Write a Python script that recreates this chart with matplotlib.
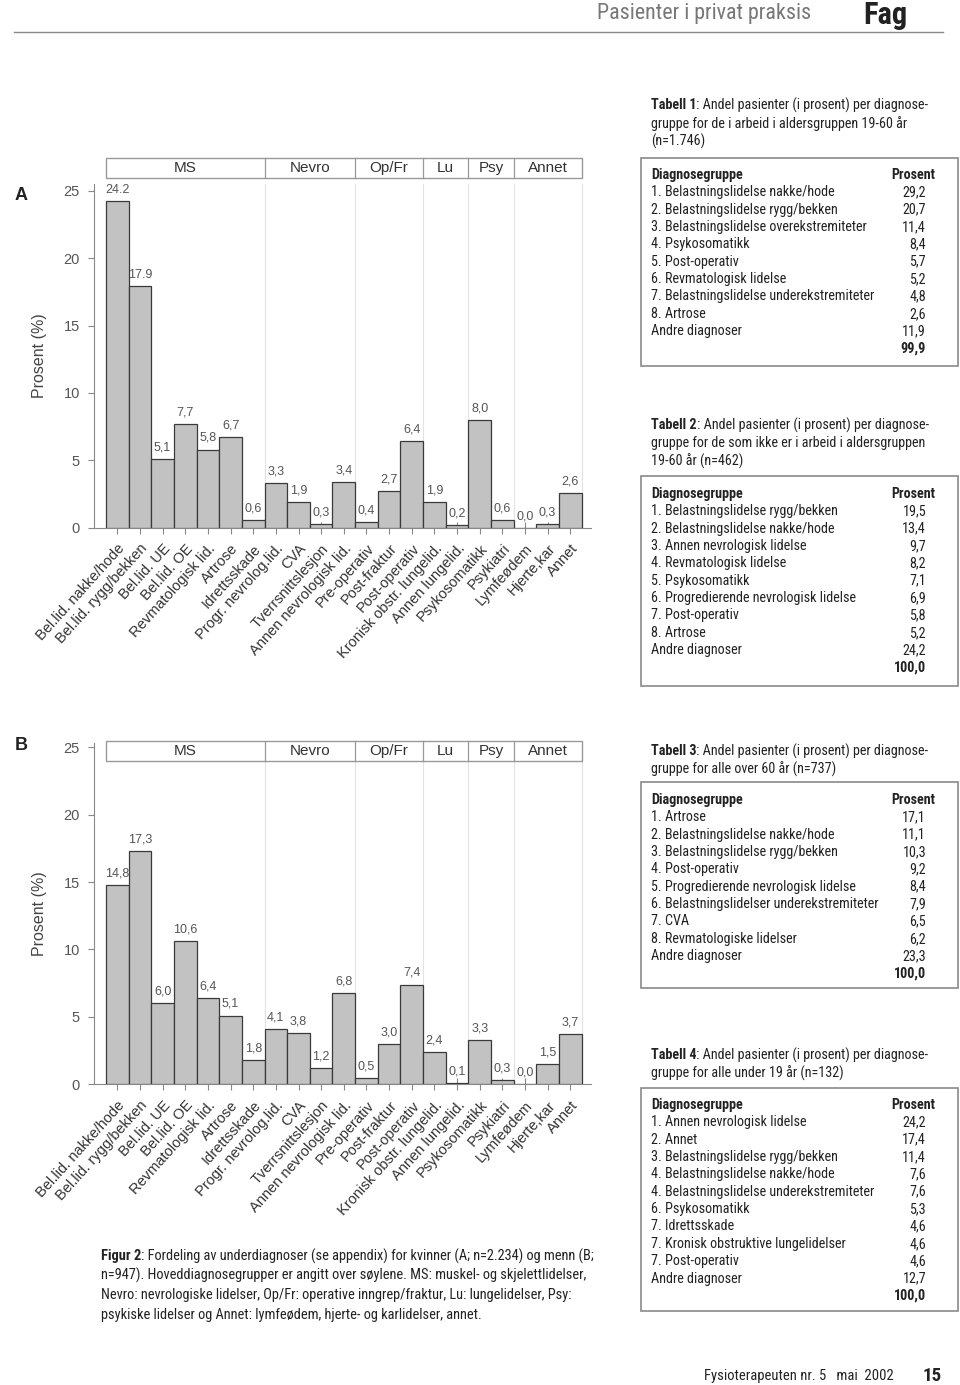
import matplotlib
matplotlib.use("Agg")
import matplotlib.pyplot as plt
import matplotlib.font_manager as fm
from matplotlib.patches import Rectangle
import numpy as np

# --- chart data -------------------------------------------------------
diagnoses = ["Bel.lid. nakke/hode", "Bel.lid. rygg/bekken", "Bel.lid. UE",
             "Bel.lid. OE", "Revmatologisk lid.", "Artrose", "Idrettsskade",
             "Progr. nevrolog.lid.", "CVA", "Tverrsnittslesjon",
             "Annen nevrologisk lid.", "Pre-operativ", "Post-fraktur",
             "Post-operativ", "Kronisk obstr. lungelid.", "Annen lungelid.",
             "Psykosomatikk", "Psykiatri", "Lymfeødem", "Hjerte,kar", "Annet"]
groups = ["MS", "Nevro", "Op/Fr", "Lu", "Psy", "Annet"]
group_sizes = [7, 4, 3, 2, 2, 3]

women = [24.2, 17.9, 5.1, 7.7, 5.8, 6.7, 0.6, 3.3, 1.9, 0.3, 3.4,
         0.4, 2.7, 6.4, 1.9, 0.2, 8.0, 0.6, 0.0, 0.3, 2.6]
women_text = ["24.2", "17.9", "5,1", "7,7", "5,8", "6,7", "0,6", "3,3", "1,9",
              "0,3", "3,4", "0,4", "2,7", "6,4", "1,9", "0,2", "8,0", "0,6",
              "0,0", "0,3", "2,6"]
men = [14.8, 17.3, 6.0, 10.6, 6.4, 5.1, 1.8, 4.1, 3.8, 1.2, 6.8,
       0.5, 3.0, 7.4, 2.4, 0.1, 3.3, 0.3, 0.0, 1.5, 3.7]

# --- table data -------------------------------------------------------
t1_title = ["Andel pasienter (i prosent) per diagnose-",
            "gruppe for de i arbeid i aldersgruppen 19-60 år", "(n=1.746)"]
t1_names = ["1. Belastningslidelse nakke/hode", "2. Belastningslidelse rygg/bekken",
            "3. Belastningslidelse overekstremiteter", "4. Psykosomatikk",
            "5. Post-operativ", "6. Revmatologisk lidelse",
            "7. Belastningslidelse underekstremiteter", "8. Artrose",
            "Andre diagnoser"]
t1_vals = [29.2, 20.7, 11.4, 8.4, 5.7, 5.2, 4.8, 2.6, 11.9]
t1_total = 99.9

t2_title = ["Andel pasienter (i prosent) per diagnose-",
            "gruppe for de som ikke er i arbeid i aldersgruppen",
            "19-60 år (n=462)"]
t2_names = ["1. Belastningslidelse rygg/bekken", "2. Belastningslidelse nakke/hode",
            "3. Annen nevrologisk lidelse", "4. Revmatologisk lidelse",
            "5. Psykosomatikk", "6. Progredierende nevrologisk lidelse",
            "7. Post-operativ", "8. Artrose", "Andre diagnoser"]
t2_vals = [19.5, 13.4, 9.7, 8.2, 7.1, 6.9, 5.8, 5.2, 24.2]
t2_total = 100.0

t3_title = ["Andel pasienter (i prosent) per diagnose-",
            "gruppe for alle over 60 år (n=737)"]
t3_names = ["1. Artrose", "2. Belastningslidelse nakke/hode",
            "3. Belastningslidelse rygg/bekken", "4. Post-operativ",
            "5. Progredierende nevrologisk lidelse",
            "6. Belastningslidelser underekstremiteter", "7. CVA",
            "8. Revmatologiske lidelser", "Andre diagnoser"]
t3_vals = [17.1, 11.1, 10.3, 9.2, 8.4, 7.9, 6.5, 6.2, 23.3]
t3_total = 100.0

t4_title = ["Andel pasienter (i prosent) per diagnose-",
            "gruppe for alle under 19 år (n=132)"]
t4_names = ["1. Annen nevrologisk lidelse", "2. Annet",
            "3. Belastningslidelse rygg/bekken", "4. Belastningslidelse nakke/hode",
            "4. Belastningslidelse underekstremiteter", "6. Psykosomatikk",
            "7. Idrettsskade", "7. Kronisk obstruktive lungelidelser",
            "7. Post-operativ", "Andre diagnoser"]
t4_vals = [24.2, 17.4, 11.4, 7.6, 7.6, 5.3, 4.6, 4.6, 4.6, 12.7]
t4_total = 100.0

caption = ["Fordeling av underdiagnoser (se appendix) for kvinner (A; n=2.234) og menn (B;",
           "n=947). Hoveddiagnosegrupper er angitt over søylene. MS: muskel- og skjelettlidelser,",
           "Nevro: nevrologiske lidelser, Op/Fr: operative inngrep/fraktur, Lu: lungelidelser, Psy:",
           "psykiske lidelser og Annet: lymfeødem, hjerte- og karlidelser, annet."]

W, H = 960, 1385
plt.rcParams["font.family"] = ["Liberation Sans", "DejaVu Sans"]


def weight_num(w):
    return w if isinstance(w, (int, float)) else fm.weight_dict.get(w, 400)


def pick_narrow():
    fams = {}
    for f in fm.fontManager.ttflist:
        fn = f.fname.lower()
        nm = f.name.lower()
        narrow = ("narrow" in nm or "condensed" in nm or f.stretch == "condensed"
                  or "condensed" in fn or "narrow" in fn)
        if not narrow or f.style != "normal":
            continue
        if "extra" in fn or "semi" in fn or "ultra" in fn:
            continue
        fams.setdefault(f.name, []).append(f)
    order = ["Liberation Sans Narrow", "Roboto Condensed", "Open Sans Condensed",
             "Noto Sans", "Arimo", "DejaVu Sans"]
    chosen = None
    for o in order:
        if o in fams:
            chosen = fams[o]
            break
    if chosen is None and fams:
        chosen = list(fams.values())[0]
    if chosen is None:
        return (fm.FontProperties(family="Liberation Sans"),
                fm.FontProperties(family="Liberation Sans", weight="bold"))
    reg = min(chosen, key=lambda f: abs(weight_num(f.weight) - 400))
    bld = min(chosen, key=lambda f: abs(weight_num(f.weight) - 700))
    return fm.FontProperties(fname=reg.fname), fm.FontProperties(fname=bld.fname)


NARROW, NARROW_B = pick_narrow()

fig = plt.figure(figsize=(W / 100, H / 100), dpi=100)
renderer = fig.canvas.get_renderer()


def fx(x):
    return x / W


def fy(y):
    return 1 - y / H


def fpz(fp, size):
    p = fp.copy()
    p.set_size(size)
    return p


def fit_size(fp, s, target_px):
    t = fig.text(0, 0, s, fontproperties=fpz(fp, 10))
    w = t.get_window_extent(renderer=renderer).width
    t.remove()
    return 10 * target_px / w


TAB_SIZE = min(fit_size(NARROW, "1. Belastningslidelse nakke/hode", 183), 12)
CAP_SIZE = min(fit_size(NARROW, "Figur 2: " + caption[0], 491), 12)
HEAD_SIZE = min(fit_size(NARROW, "Pasienter i privat praksis", 213), 17)
FAG_SIZE = min(fit_size(NARROW_B, "Fag", 45), 22)
FOOT_SIZE = min(fit_size(NARROW, "Fysioterapeuten nr. 5   mai  2002", 187), 11.5)


def ptext(x, y, s, fp, size, **kw):
    return fig.text(fx(x), fy(y), s, fontproperties=fpz(fp, size), **kw)


def bold_lead(x, y, lead, rest, size, color="#222"):
    t = ptext(x, y, lead, NARROW_B, size, color=color, va="center")
    bb = t.get_window_extent(renderer=renderer)
    fig.text(bb.x1 / W, fy(y), rest, fontproperties=fpz(NARROW, size),
             color=color, va="center")


def fmt(v):
    return f"{v:.1f}".replace(".", ",")


def draw_chart(bottom_px, ytop, box_lo, box_hi, values, texts, letter, let_y):
    px_per_unit = 13.48
    ax = fig.add_axes([fx(93.8), 1 - bottom_px / H, (591.3 - 93.8) / W,
                       ytop * px_per_unit / H])
    x = np.arange(len(values))
    ax.bar(x, values, width=1.0, color="#c2c2c2", edgecolor="#3a3a3a",
           linewidth=0.9, zorder=3)
    for xi, v, s in zip(x, values, texts):
        ax.annotate(s, (xi, v), xytext=(0, 4), textcoords="offset points",
                    ha="center", va="bottom", fontsize=9, color="#555")
    ax.set_xlim(-1.04, 20.93)
    ax.set_ylim(0, ytop)
    for sp in ["top", "right"]:
        ax.spines[sp].set_visible(False)
    for sp in ["left", "bottom"]:
        ax.spines[sp].set_color("#888")
    ax.set_yticks([0, 5, 10, 15, 20, 25])
    ax.tick_params(axis="y", direction="out", length=4, colors="#888",
                   labelcolor="#555", labelsize=10.5, pad=6)
    ax.set_xticks(x)
    ax.set_xticklabels(diagnoses, rotation=48, ha="right", va="top",
                       rotation_mode="anchor", fontsize=10.5, color="#333")
    ax.tick_params(axis="x", direction="inout", length=8, colors="#888",
                   labelcolor="#333", pad=6)
    ax.set_ylabel("Prosent (%)", fontsize=11.5, color="#444")
    ax.yaxis.set_label_coords(-0.094, 0.5)

    edges = np.concatenate([[-0.5], np.cumsum(group_sizes) - 0.5])
    ax.vlines(edges[1:], 0, box_lo, color="#e2e2e2", lw=0.8, zorder=1)
    ax.add_patch(Rectangle((edges[0], box_lo), edges[-1] - edges[0],
                           box_hi - box_lo, fill=False, ec="#999", lw=1.0,
                           clip_on=False))
    for e in edges[1:-1]:
        ax.plot([e, e], [box_lo, box_hi], color="#999", lw=0.9, clip_on=False)
    for g, a, b in zip(groups, edges[:-1], edges[1:]):
        ax.text((a + b) / 2, (box_lo + box_hi) / 2, g, ha="center",
                va="center", fontsize=11, color="#333", clip_on=False)
    fig.text(fx(15), fy(let_y), letter, fontsize=13, weight="bold",
             color="#222", ha="left", va="center")
    return ax


draw_chart(527.7, 25.5, 25.94, 27.4, women, women_text, "A", 195)
draw_chart(1084.3, 25.3, 23.97, 25.5, men, [fmt(v) for v in men], "B", 745)


def draw_table(num, title, y_title, box_top, box_bot, y_head, names, vals,
               total):
    size = TAB_SIZE
    bold_lead(651, y_title, f"Tabell {num}", ": " + title[0], size)
    for k, line in enumerate(title[1:], start=1):
        ptext(651, y_title + k * 18.3, line, NARROW, size, color="#222",
              va="center")
    fig.patches.append(Rectangle((fx(641), fy(box_bot)), fx(958) - fx(641),
                                 fy(box_top) - fy(box_bot), fill=False,
                                 ec="#8a8a8a", lw=1.2,
                                 transform=fig.transFigure, figure=fig))
    ptext(651, y_head, "Diagnosegruppe", NARROW_B, size, color="#222",
          va="center")
    ptext(935, y_head, "Prosent", NARROW_B, size, color="#222", va="center",
          ha="right")
    step = 17.35
    for k, (n, v) in enumerate(zip(names, vals), start=1):
        ptext(651, y_head + k * step, n, NARROW, size, color="#222",
              va="center")
        ptext(926, y_head + k * step, fmt(v), NARROW, size, color="#222",
              va="center", ha="right")
    ptext(926, y_head + (len(names) + 1) * step, fmt(total), NARROW_B, size,
          color="#222", va="center", ha="right")


draw_table(1, t1_title, 105, 158, 366, 175, t1_names, t1_vals, t1_total)
draw_table(2, t2_title, 425, 476, 686, 494, t2_names, t2_vals, t2_total)
draw_table(3, t3_title, 751, 782, 988, 800, t3_names, t3_vals, t3_total)
draw_table(4, t4_title, 1055, 1088, 1311, 1105, t4_names, t4_vals, t4_total)

# caption
bold_lead(101, 1256, "Figur 2", ": " + caption[0], CAP_SIZE)
for k, line in enumerate(caption[1:], start=1):
    ptext(101, 1256 + k * 19.5, line, NARROW, CAP_SIZE, color="#222",
          va="center")

# page header / footer
ptext(597, 13, "Pasienter i privat praksis", NARROW, HEAD_SIZE,
      color="#777", va="center")
ptext(863, 15, "Fag", NARROW_B, FAG_SIZE, color="#222", va="center")
fig.add_artist(plt.Line2D([fx(14), fx(943)], [fy(31.5), fy(31.5)],
                          color="#888", lw=1.0))
ptext(704, 1376, "Fysioterapeuten nr. 5   mai  2002", NARROW, FOOT_SIZE,
      color="#222", va="center")
ptext(923, 1376, "15", NARROW_B, FOOT_SIZE * 1.3, color="#222", va="center")

fig.savefig("out.png", dpi=100)
